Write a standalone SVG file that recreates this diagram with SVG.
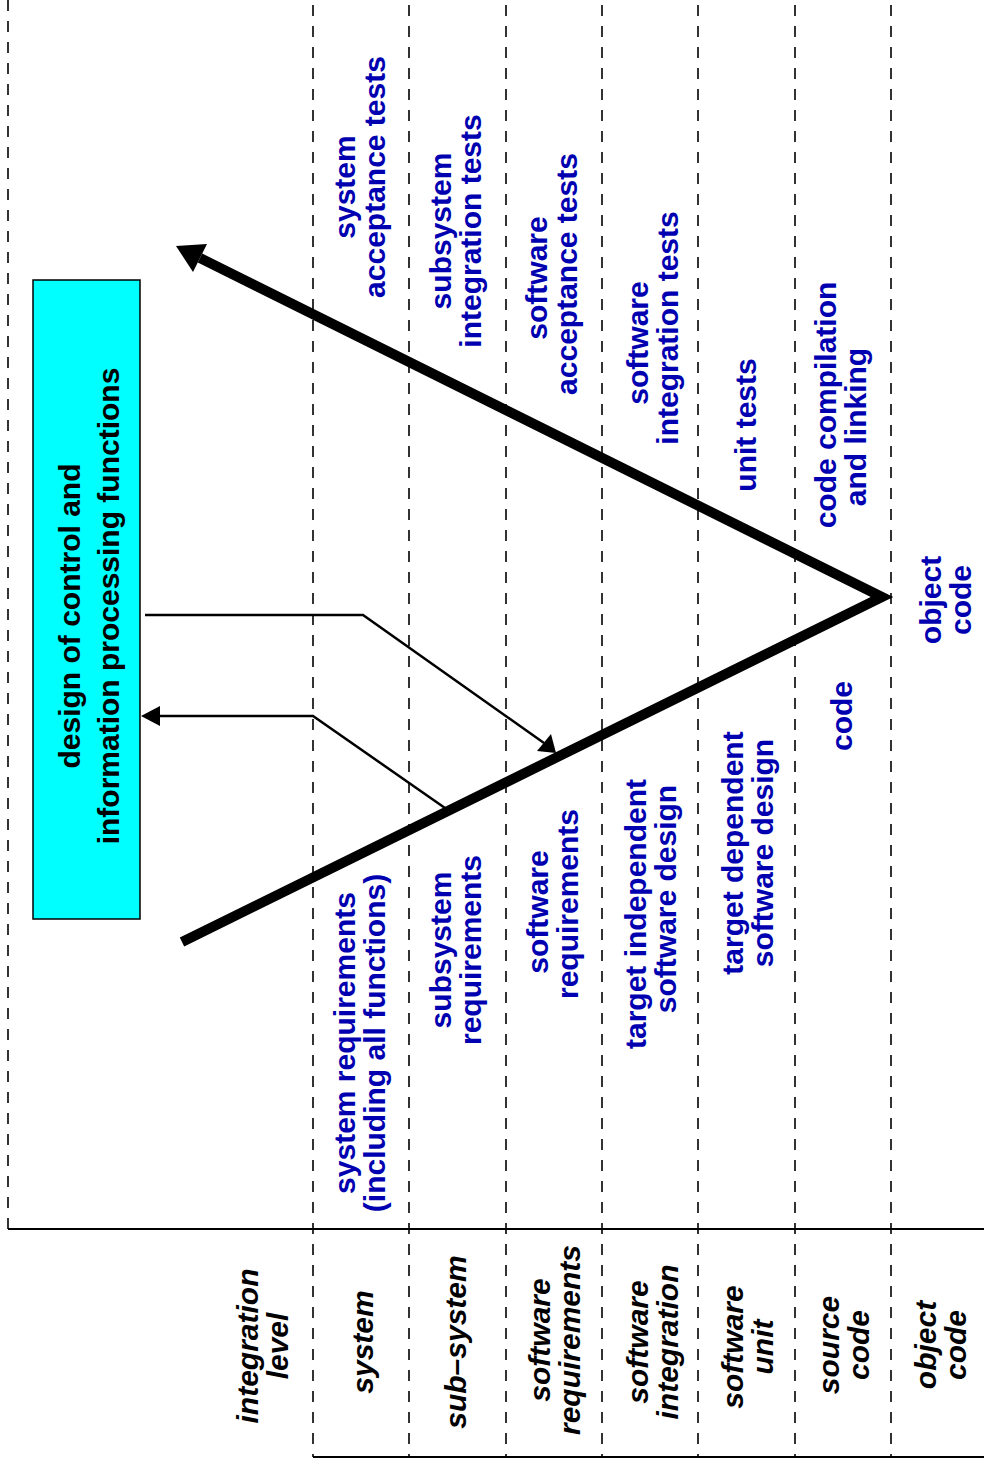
<svg xmlns="http://www.w3.org/2000/svg" width="984" height="1469" viewBox="0 0 984 1469">
<style>
.dash{stroke:#000;stroke-width:1.6;stroke-dasharray:11 10;fill:none}
.solid{stroke:#000;stroke-width:2;fill:none}
.thin{stroke:#000;stroke-width:2.5;fill:none}
.v{stroke:#000;stroke-width:10;fill:none;stroke-linejoin:miter}
.lbl{font-family:"Liberation Sans",Arial,sans-serif;font-weight:bold;font-size:30px;fill:#0000b0;text-anchor:middle}
.lvl{font-family:"Liberation Sans",Arial,sans-serif;font-weight:bold;font-style:italic;font-size:30px;fill:#000;text-anchor:middle}
.box{font-family:"Liberation Sans",Arial,sans-serif;font-weight:bold;font-size:30px;fill:#000;text-anchor:middle}
</style>
<rect width="984" height="1469" fill="#fff"/>
<g id="grid">
<line class="dash" x1="8" y1="0" x2="8" y2="1229"/>
<line class="dash" x1="313" y1="5" x2="313" y2="1457"/>
<line class="dash" x1="409" y1="5" x2="409" y2="1457"/>
<line class="dash" x1="506" y1="5" x2="506" y2="1457"/>
<line class="dash" x1="602" y1="5" x2="602" y2="1457"/>
<line class="dash" x1="698" y1="5" x2="698" y2="1457"/>
<line class="dash" x1="795" y1="5" x2="795" y2="1457"/>
<line class="dash" x1="891" y1="5" x2="891" y2="1457"/>
<line class="solid" x1="8" y1="1229" x2="984" y2="1229"/>
<line class="solid" x1="313" y1="1457" x2="984" y2="1457"/>
</g>
<g id="design-box">
<rect x="33" y="280" width="107" height="639" fill="#00ffff" stroke="#000" stroke-width="1.5"/>
<text class="box" transform="translate(0,600) rotate(-90)"><tspan x="-16" y="80">design of control and</tspan><tspan x="-6" y="119">information processing functions</tspan></text>
</g>
<g id="connectors">
<polyline class="v" points="182,942 882,597 200,258"/>
<polygon points="176,246 207,244 193,272" fill="#000"/>
<polyline class="thin" points="145,615 363,615 544,743"/>
<polygon points="556,753 537,751 551,734" fill="#000"/>
<polyline class="thin" points="445,808 313,716 158,716"/>
<polygon points="141,716 160,706 160,726" fill="#000"/>
</g>
<g id="test-labels">
<text class="lbl" transform="translate(0,177) rotate(-90)"><tspan x="-10" y="355">system</tspan><tspan x="0" y="385">acceptance tests</tspan></text>
<text class="lbl" transform="translate(0,231) rotate(-90)"><tspan x="0" y="451">subsystem</tspan><tspan x="0" y="481">integration tests</tspan></text>
<text class="lbl" transform="translate(0,274) rotate(-90)"><tspan x="-4" y="547">software</tspan><tspan x="0" y="577">acceptance tests</tspan></text>
<text class="lbl" transform="translate(0,328) rotate(-90)"><tspan x="-15" y="648">software</tspan><tspan x="0" y="678">integration tests</tspan></text>
<text class="lbl" transform="translate(0,425) rotate(-90)"><tspan x="0" y="756">unit tests</tspan></text>
<text class="lbl" transform="translate(0,405) rotate(-90)"><tspan x="0" y="836">code compilation</tspan><tspan x="-22" y="866">and linking</tspan></text>
<text class="lbl" transform="translate(0,600) rotate(-90)"><tspan x="0" y="941">object</tspan><tspan x="0" y="971">code</tspan></text>
</g>
<g id="design-labels">
<text class="lbl" transform="translate(0,1043) rotate(-90)"><tspan x="0" y="355">system requirements</tspan><tspan x="0" y="385">(including all functions)</tspan></text>
<text class="lbl" transform="translate(0,950) rotate(-90)"><tspan x="0" y="451">subsystem</tspan><tspan x="0" y="481">requirements</tspan></text>
<text class="lbl" transform="translate(0,904) rotate(-90)"><tspan x="-8" y="548">software</tspan><tspan x="0" y="578">requirements</tspan></text>
<text class="lbl" transform="translate(0,912) rotate(-90)"><tspan x="-2" y="646">target independent</tspan><tspan x="13" y="676">software design</tspan></text>
<text class="lbl" transform="translate(0,853) rotate(-90)"><tspan x="0" y="743">target dependent</tspan><tspan x="0" y="773">software design</tspan></text>
<text class="lbl" transform="translate(0,716) rotate(-90)"><tspan x="0" y="852">code</tspan></text>
</g>
<g id="level-labels">
<text class="lvl" transform="translate(0,1346) rotate(-90)"><tspan x="0" y="258">integration</tspan><tspan x="0" y="288">level</tspan></text>
<text class="lvl" transform="translate(0,1342) rotate(-90)"><tspan x="0" y="373">system</tspan></text>
<text class="lvl" transform="translate(0,1342) rotate(-90)"><tspan x="0" y="466">sub–system</tspan></text>
<text class="lvl" transform="translate(0,1340) rotate(-90)"><tspan x="0" y="550">software</tspan><tspan x="0" y="580">requirements</tspan></text>
<text class="lvl" transform="translate(0,1342) rotate(-90)"><tspan x="0" y="648">software</tspan><tspan x="0" y="678">integration</tspan></text>
<text class="lvl" transform="translate(0,1347) rotate(-90)"><tspan x="0" y="743">software</tspan><tspan x="0" y="773">unit</tspan></text>
<text class="lvl" transform="translate(0,1345) rotate(-90)"><tspan x="0" y="839">source</tspan><tspan x="0" y="869">code</tspan></text>
<text class="lvl" transform="translate(0,1345) rotate(-90)"><tspan x="0" y="936">object</tspan><tspan x="0" y="966">code</tspan></text>
</g>
</svg>
